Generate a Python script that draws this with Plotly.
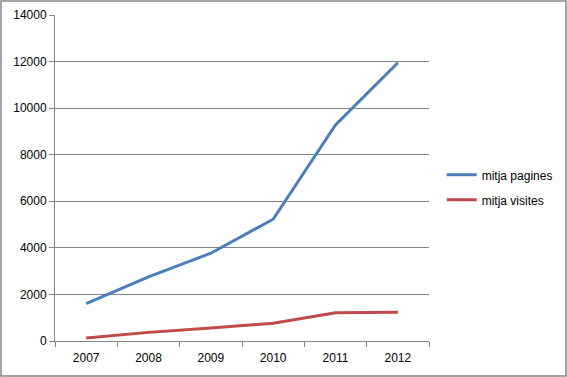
import plotly.graph_objects as go

years = ["2007", "2008", "2009", "2010", "2011", "2012"]
mitja_pagines = [1600, 2750, 3770, 5230, 9280, 11950]
mitja_visites = [130, 370, 560, 760, 1215, 1230]
y_ticks = [0, 2000, 4000, 6000, 8000, 10000, 12000, 14000]

fig = go.Figure()
fig.add_trace(go.Scatter(x=years, y=mitja_pagines, mode="lines", name="mitja pagines",
                         legendgroup="a", line=dict(color="#4A7EBB", width=3)))
fig.add_trace(go.Scatter(x=years, y=mitja_visites, mode="lines", name="mitja visites",
                         legendgroup="b", line=dict(color="#BE4B48", width=3)))

fig.update_layout(
    width=567, height=377,
    margin=dict(l=55, r=138, t=15, b=36, autoexpand=False),
    paper_bgcolor="white", plot_bgcolor="white",
    font=dict(family="Liberation Sans, Arial, sans-serif", size=12, color="black"),
    showlegend=True,
    legend=dict(xref="container", yref="container", x=0.779, y=0.503,
                xanchor="left", yanchor="middle",
                font=dict(size=12), itemwidth=30, tracegroupgap=6,
                bgcolor="rgba(0,0,0,0)"),
    xaxis=dict(type="category", range=[-0.5, 5.5], tickson="boundaries",
               ticks="outside", ticklen=5, tickcolor="#868686",
               showline=True, linecolor="#868686", linewidth=1, automargin=False,
               showgrid=False, zeroline=False, ticklabelstandoff=6),
    yaxis=dict(range=[0, 14000], tickvals=y_ticks, ticktext=[str(v) for v in y_ticks],
               ticks="outside", ticklen=5, tickcolor="#868686", automargin=False,
               showline=True, linecolor="#868686", linewidth=1,
               showgrid=True, gridcolor="#868686", gridwidth=1, zeroline=False),
    shapes=[dict(type="rect", xref="paper", yref="paper",
                 x0=-54/374, x1=1+137/374, y0=-35/326, y1=1+14/326,
                 line=dict(color="#868686", width=1.5))],
)

fig.write_html(
    "out.html",
    config={"displayModeBar": False},
    post_script="document.body.style.margin='0';document.body.style.overflow='hidden';"
                "document.documentElement.style.overflow='hidden';",
)
